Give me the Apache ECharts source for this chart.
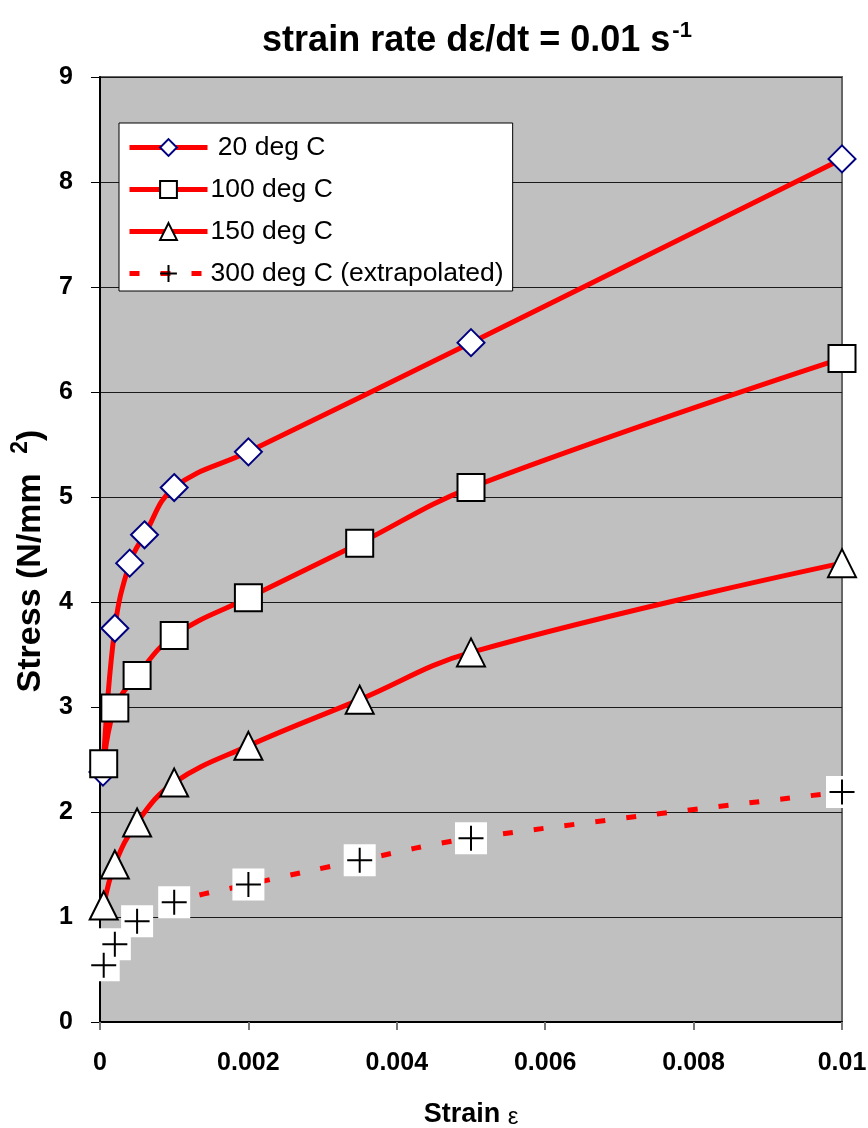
<!DOCTYPE html>
<html>
<head>
<meta charset="utf-8">
<script src="https://cdn.jsdelivr.net/npm/echarts@6/dist/echarts.min.js"></script>
<style>
  html, body { margin: 0; padding: 0; background: #ffffff; }
  #chart { width: 868px; height: 1128px; }
</style>
</head>
<body>
<div id="chart"></div>
<script>
// Stress–strain curves at strain rate 0.01 1/s for several temperatures
const seriesNames = [' 20 deg C', '100 deg C', '150 deg C', '300 deg C (extrapolated)'];

const strain20 = [0.00004, 0.0002, 0.0004, 0.0006, 0.001, 0.002, 0.005, 0.01];
const stress20 = [2.38, 3.75, 4.37, 4.64, 5.09, 5.43, 6.47, 8.22];

const strain100 = [0.00005, 0.0002, 0.0005, 0.001, 0.002, 0.0035, 0.005, 0.01];
const stress100 = [2.46, 2.99, 3.30, 3.68, 4.04, 4.56, 5.09, 6.32];

const strain150 = [0.00005, 0.0002, 0.0005, 0.001, 0.002, 0.0035, 0.005, 0.01];
const stress150 = [1.11, 1.50, 1.90, 2.28, 2.63, 3.07, 3.52, 4.37];

const strain300 = [0.00005, 0.0002, 0.0005, 0.001, 0.002, 0.0035, 0.005, 0.01];
const stress300 = [0.54, 0.74, 0.96, 1.14, 1.31, 1.54, 1.75, 2.19];

const xTickLabels = ['0', '0.002', '0.004', '0.006', '0.008', '0.01'];
const yTickLabels = ['0', '1', '2', '3', '4', '5', '6', '7', '8', '9'];

const pairs = (xs, ys) => xs.map((x, i) => [x, ys[i]]);

const FONT = '"Liberation Sans", Arial, Helvetica, sans-serif';
const RED = '#ff0000';
const CROSS = 'path://M10,0L10,20M0,10L20,10';

const chart = echarts.init(document.getElementById('chart'), null, { renderer: 'canvas' });

const curveLine = { color: RED, width: 5 };

chart.setOption({
  backgroundColor: '#ffffff',
  animation: false,
  textStyle: { fontFamily: FONT },
  title: {
    text: 'strain rate d\u03b5/dt = 0.01 s{sup|-1}',
    left: 472,
    textAlign: 'center',
    top: 15,
    textStyle: {
      fontFamily: FONT,
      fontSize: 36,
      fontWeight: 'bold',
      color: '#000',
      rich: {
        sup: { fontFamily: FONT, fontSize: 22, fontWeight: 'bold', color: '#000', padding: [0, 0, 20, 2] }
      }
    }
  },
  legend: {
    orient: 'vertical',
    left: 119,
    top: 123,
    data: seriesNames,
    backgroundColor: '#ffffff',
    borderColor: '#000000',
    borderWidth: 1,
    borderRadius: 0,
    padding: [11, 9, 4, 8],
    itemWidth: 78,
    itemHeight: 21,
    itemGap: 15,
    lineStyle: { width: 5 },
    textStyle: { fontFamily: FONT, fontSize: 26.5, color: '#000', lineHeight: 27, padding: [0, 0, 0, -2] }
  },
  grid: {
    left: 100,
    right: 26,
    top: 77,
    bottom: 106,
    containLabel: false,
    outerBoundsMode: 'none',
    show: true,
    backgroundColor: '#c0c0c0',
    borderColor: '#666666',
    borderWidth: 2
  },
  xAxis: {
    type: 'value',
    min: 0,
    max: 0.01,
    interval: 0.002,
    name: 'Strain {eps|\u03b5}',
    nameLocation: 'middle',
    nameGap: 79,
    nameTextStyle: {
      fontFamily: FONT, fontSize: 27, fontWeight: 'bold', color: '#000',
      rich: { eps: { fontFamily: FONT, fontSize: 24, fontWeight: 'normal', color: '#000', padding: [4, 0, 0, 0] } }
    },
    axisLine: { show: true, onZero: false, lineStyle: { color: '#000', width: 2 } },
    axisTick: { show: true, inside: false, length: 8, lineStyle: { color: '#777', width: 2 } },
    splitLine: { show: false },
    axisLabel: {
      fontFamily: FONT, fontSize: 25, fontWeight: 'bold', color: '#000', margin: 29,
      formatter: (v, i) => xTickLabels[i]
    }
  },
  yAxis: {
    type: 'value',
    min: 0,
    max: 9,
    interval: 1,
    name: 'Stress (N/mm {sup|2})',
    nameLocation: 'middle',
    nameRotate: 90,
    nameGap: 47,
    nameTextStyle: {
      fontFamily: FONT, fontSize: 34, fontWeight: 'bold', color: '#000',
      padding: [0, 23, 0, 0],
      rich: { sup: { fontFamily: FONT, fontSize: 23, fontWeight: 'bold', color: '#000', padding: [0, 0, 21, 10] } }
    },
    axisLine: { show: true, onZero: false, lineStyle: { color: '#000', width: 2 } },
    axisTick: { show: true, inside: false, length: 9, lineStyle: { color: '#000', width: 1 } },
    splitLine: { show: true, lineStyle: { color: '#1a1a1a', width: 1.2 } },
    axisLabel: {
      fontFamily: FONT, fontSize: 25, fontWeight: 'bold', color: '#000', margin: 27,
      formatter: (v, i) => yTickLabels[i]
    }
  },
  series: [
    {
      name: seriesNames[0],
      type: 'line',
      data: pairs(strain20, stress20),
      smooth: 0.4,
      z: 3,
      lineStyle: curveLine,
      symbol: 'diamond',
      symbolSize: 27,
      itemStyle: { color: '#ffffff', borderColor: '#000080', borderWidth: 2 }
    },
    {
      name: seriesNames[1],
      type: 'line',
      data: pairs(strain100, stress100),
      smooth: 0.4,
      z: 4,
      lineStyle: curveLine,
      symbol: 'rect',
      symbolSize: 27,
      itemStyle: { color: '#ffffff', borderColor: '#000000', borderWidth: 2 }
    },
    {
      name: seriesNames[2],
      type: 'line',
      data: pairs(strain150, stress150),
      smooth: 0.4,
      z: 4,
      lineStyle: curveLine,
      symbol: 'triangle',
      symbolSize: 28,
      itemStyle: { color: '#ffffff', borderColor: '#000000', borderWidth: 2 }
    },
    {
      name: seriesNames[3],
      type: 'line',
      data: pairs(strain300, stress300),
      smooth: 0.4,
      z: 2,
      lineStyle: { color: RED, width: 5, type: [10, 21] },
      symbol: CROSS,
      symbolSize: 25,
      itemStyle: { color: '#000000', borderColor: '#000000', borderWidth: 2 }
    },
    {
      // white plates behind the 300 deg C cross markers
      type: 'scatter',
      data: pairs(strain300, stress300),
      z: 2.5,
      symbol: 'rect',
      symbolSize: 32,
      silent: true,
      itemStyle: { color: '#ffffff', borderWidth: 0, opacity: 1 }
    },
    {
      type: 'scatter',
      data: pairs(strain300, stress300),
      z: 2.6,
      symbol: CROSS,
      symbolSize: 25,
      silent: true,
      itemStyle: { color: '#000000', borderColor: '#000000', borderWidth: 2, opacity: 1 }
    }
  ]
});
</script>
</body>
</html>
